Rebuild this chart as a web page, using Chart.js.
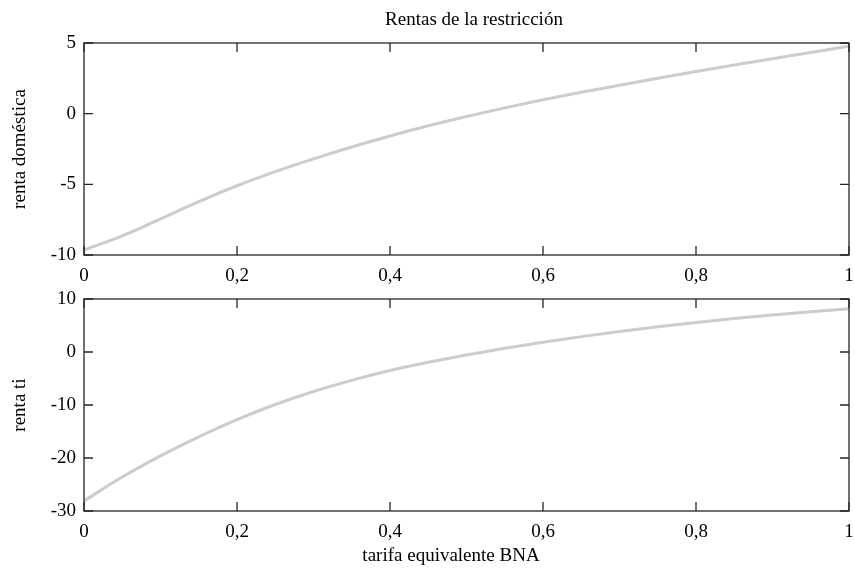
<!DOCTYPE html>
<html>
<head>
<meta charset="utf-8">
<script src="https://cdn.jsdelivr.net/npm/chart.js@4/dist/chart.umd.min.js"></script>
<style>
  body { margin: 0; background: #fff; }
  #wrap { position: relative; width: 855px; height: 568px; }
  canvas { position: absolute; left: 0; }
</style>
</head>
<body>
<div id="wrap">
  <canvas id="top_chart" width="855" height="300" style="top:0"></canvas>
  <canvas id="bottom_chart" width="855" height="288" style="top:280px"></canvas>
</div>
<script>
// tarifa equivalente BNA
const tarifa = [0, 0.05, 0.1, 0.15, 0.2, 0.25, 0.3, 0.35, 0.4, 0.45, 0.5,
  0.55, 0.6, 0.65, 0.7, 0.75, 0.8, 0.85, 0.9, 0.95, 1];
const renta_domestica = [-9.65, -8.65, -7.45, -6.23, -5.1, -4.1, -3.2, -2.36, -1.58, -0.86, -0.2,
  0.41, 0.98, 1.51, 2.01, 2.5, 2.98, 3.44, 3.89, 4.33, 4.78];
const renta_ti = [-28.1, -23.6, -19.6, -16.0, -12.75, -9.9, -7.45, -5.35, -3.5, -1.95, -0.57,
  0.7, 1.85, 2.9, 3.87, 4.76, 5.58, 6.32, 6.99, 7.6, 8.14];
const x_ticks = [0, 0.2, 0.4, 0.6, 0.8, 1];
const y_ticks_top = [-10, -5, 0, 5];
const y_ticks_bottom = [-30, -20, -10, 0, 10];

const FONT = "'Liberation Serif', 'DejaVu Serif', serif";
const FRAME = '#262626';

// matlab style box with inward ticks + free text
const frame_plugin = {
  id: 'frame',
  afterDraw(chart, args, opts) {
    const ctx = chart.ctx;
    const a = chart.chartArea;
    const xs = chart.scales.x, ys = chart.scales.y;
    const len = 9;
    ctx.save();
    ctx.strokeStyle = FRAME;
    ctx.lineWidth = 1.3;
    ctx.strokeRect(a.left, a.top, a.right - a.left, a.bottom - a.top);
    ctx.beginPath();
    xs.ticks.forEach(t => {
      const px = xs.getPixelForValue(t.value);
      ctx.moveTo(px, a.bottom); ctx.lineTo(px, a.bottom - len);
      ctx.moveTo(px, a.top); ctx.lineTo(px, a.top + len);
    });
    ys.ticks.forEach(t => {
      const py = ys.getPixelForValue(t.value);
      ctx.moveTo(a.left, py); ctx.lineTo(a.left + len, py);
      ctx.moveTo(a.right, py); ctx.lineTo(a.right - len, py);
    });
    ctx.stroke();
    ctx.fillStyle = '#000';
    ctx.font = '19px ' + FONT;
    ctx.textAlign = 'center';
    ctx.textBaseline = 'middle';
    (opts.texts || []).forEach(tx => ctx.fillText(tx.text, tx.x, tx.y));
    ctx.restore();
  }
};

function make_chart(id, values, yticks, pad_top, x_height, ylabel, texts) {
  return new Chart(document.getElementById(id), {
    type: 'line',
    data: {
      datasets: [{
        data: tarifa.map((t, i) => ({x: t, y: values[i]})),
        borderColor: '#cccccc',
        borderWidth: 3,
        pointRadius: 0,
        cubicInterpolationMode: 'monotone',
        fill: false
      }]
    },
    options: {
      responsive: false,
      animation: false,
      layout: { padding: { top: pad_top, right: 6, left: 0, bottom: 0 } },
      plugins: {
        legend: { display: false },
        tooltip: { enabled: false },
        frame: { texts: texts }
      },
      scales: {
        x: {
          type: 'linear',
          min: 0, max: 1,
          afterBuildTicks: s => { s.ticks = x_ticks.map(v => ({value: v})); },
          afterFit: s => { s.height = x_height; s.paddingLeft = 0; s.paddingRight = 0; },
          grid: { display: false, drawTicks: false },
          border: { display: false },
          ticks: {
            color: '#000',
            padding: 10,
            maxRotation: 0,
            font: { family: FONT, size: 19 },
            callback: v => String(v).replace('.', ',')
          }
        },
        y: {
          min: yticks[0], max: yticks[yticks.length - 1],
          afterBuildTicks: s => { s.ticks = yticks.map(v => ({value: v})); },
          afterFit: s => { s.width = 84; s.paddingTop = 0; s.paddingBottom = 0; },
          grid: { display: false, drawTicks: false },
          border: { display: false },
          ticks: {
            color: '#000',
            padding: 8,
            font: { family: FONT, size: 19 }
          },
          title: {
            display: true,
            text: ylabel,
            color: '#000',
            padding: { top: 9, bottom: 0 },
            font: { family: FONT, size: 19 }
          }
        }
      }
    },
    plugins: [frame_plugin]
  });
}

make_chart('top_chart', renta_domestica, y_ticks_top, 43, 45, 'renta doméstica',
  [{ text: 'Rentas de la restricción', x: 474, y: 20 }]);
make_chart('bottom_chart', renta_ti, y_ticks_bottom, 19, 57, 'renta ti',
  [{ text: 'tarifa equivalente BNA', x: 451, y: 276 }]);
</script>
</body>
</html>
